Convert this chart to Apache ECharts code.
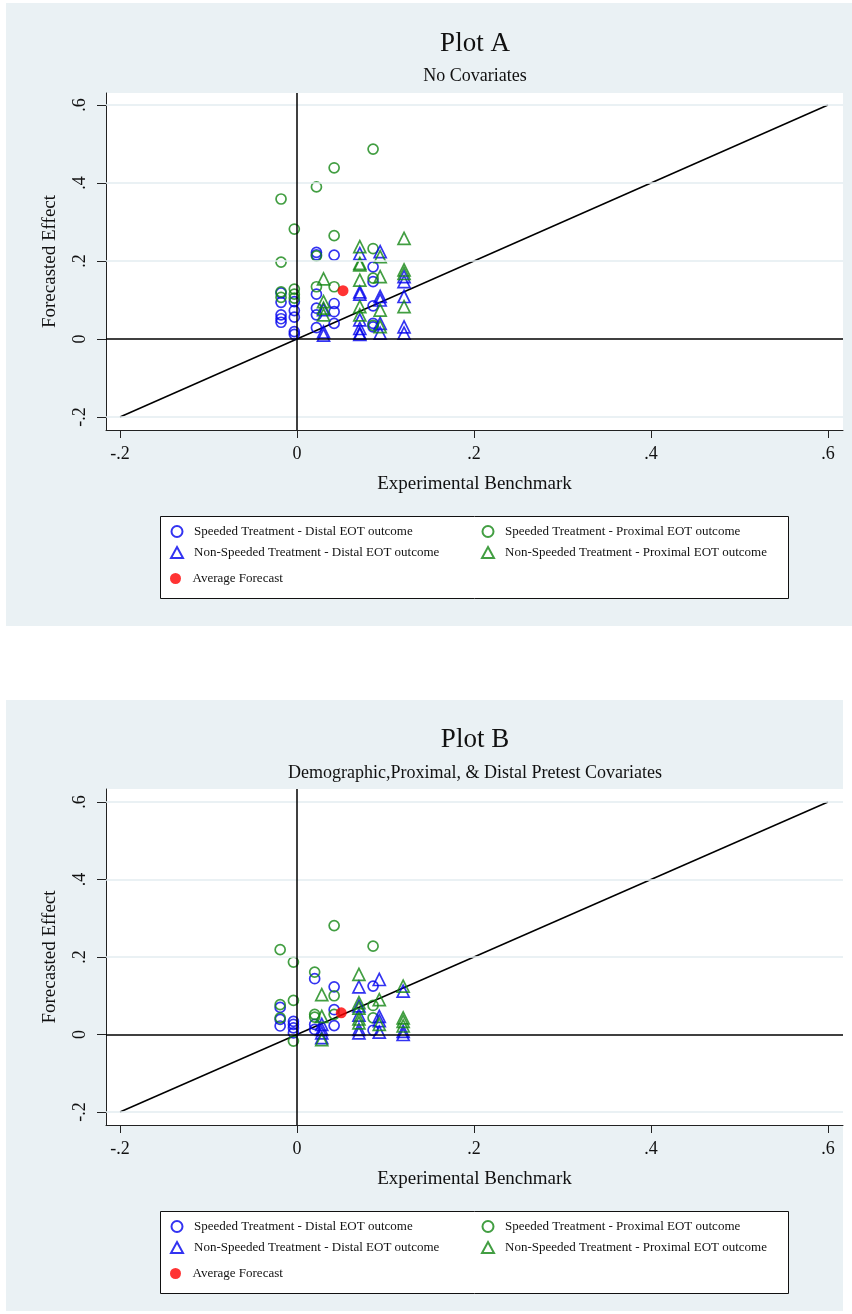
<!DOCTYPE html>
<html>
<head>
<meta charset="utf-8">
<script src="https://cdn.jsdelivr.net/npm/echarts@6/dist/echarts.min.js"></script>
<style>
  html, body { margin: 0; padding: 0; background: #fff; }
  #chart { width: 852px; height: 1314px; }
</style>
</head>
<body>
<div id="chart"></div>
<script>
// tick values shared by both axes of both plots
const tickValues = [-0.2, 0, 0.2, 0.4, 0.6];
const tickLabels = ["-.2", "0", ".2", ".4", ".6"];
const diagLine = [[-0.2, -0.2], [0.6, 0.6]];

// Plot A - no covariates
const aSpeededDistal = [
  [-0.018, 0.118], [-0.018, 0.094], [-0.018, 0.062], [-0.018, 0.052], [-0.018, 0.043],
  [-0.003, 0.096], [-0.003, 0.073], [-0.003, 0.056], [-0.003, 0.019], [-0.003, 0.012],
  [0.022, 0.222], [0.022, 0.216], [0.022, 0.115], [0.022, 0.079], [0.022, 0.062], [0.022, 0.029],
  [0.042, 0.215], [0.042, 0.091], [0.042, 0.07], [0.042, 0.04],
  [0.086, 0.185], [0.086, 0.147], [0.086, 0.085], [0.086, 0.04], [0.086, 0.031]
];
const aSpeededProximal = [
  [-0.018, 0.359], [-0.018, 0.197], [-0.018, 0.121], [-0.018, 0.107],
  [-0.003, 0.282], [-0.003, 0.128], [-0.003, 0.115], [-0.003, 0.105],
  [0.022, 0.39], [0.022, 0.213], [0.022, 0.134],
  [0.042, 0.439], [0.042, 0.265], [0.042, 0.134],
  [0.086, 0.487], [0.086, 0.232], [0.086, 0.156], [0.086, 0.035]
];
const aNonSpeededDistal = [
  [0.03, 0.075], [0.03, 0.018], [0.03, 0.01],
  [0.071, 0.219], [0.071, 0.121], [0.071, 0.115], [0.071, 0.049], [0.071, 0.027], [0.071, 0.015], [0.071, 0.012],
  [0.094, 0.224], [0.094, 0.109], [0.094, 0.1], [0.094, 0.04], [0.094, 0.015],
  [0.121, 0.16], [0.121, 0.147], [0.121, 0.109], [0.121, 0.031], [0.121, 0.015]
];
const aNonSpeededProximal = [
  [0.03, 0.154], [0.03, 0.096], [0.03, 0.079], [0.03, 0.062],
  [0.071, 0.237], [0.071, 0.194], [0.071, 0.19], [0.071, 0.151], [0.071, 0.083], [0.071, 0.062],
  [0.094, 0.211], [0.094, 0.16], [0.094, 0.074], [0.094, 0.032],
  [0.121, 0.258], [0.121, 0.177], [0.121, 0.168], [0.121, 0.083]
];
const aAverage = [[0.052, 0.124]];

// Plot B - demographic, proximal & distal pretest covariates
const bSpeededDistal = [
  [-0.019, 0.07], [-0.019, 0.039], [-0.019, 0.022],
  [-0.004, 0.034], [-0.004, 0.026], [-0.004, 0.017], [-0.004, 0.004],
  [0.02, 0.144], [0.02, 0.026], [0.02, 0.013],
  [0.042, 0.123], [0.042, 0.064], [0.042, 0.023],
  [0.086, 0.125], [0.086, 0.011]
];
const bSpeededProximal = [
  [-0.019, 0.219], [-0.019, 0.077], [-0.019, 0.043],
  [-0.004, 0.187], [-0.004, 0.088], [-0.004, -0.017],
  [0.02, 0.161], [0.02, 0.052], [0.02, 0.045],
  [0.042, 0.281], [0.042, 0.1], [0.042, 0.052],
  [0.086, 0.228], [0.086, 0.075], [0.086, 0.043]
];
const bNonSpeededDistal = [
  [0.028, 0.026], [0.028, 0.013], [0.028, 0.004], [0.028, -0.008],
  [0.07, 0.123], [0.07, 0.074], [0.07, 0.05], [0.07, 0.013], [0.07, 0.004],
  [0.093, 0.142], [0.093, 0.047], [0.093, 0.036], [0.093, 0.006],
  [0.12, 0.112], [0.12, 0.008], [0.12, 0.0]
];
const bNonSpeededProximal = [
  [0.028, 0.103], [0.028, 0.047], [0.028, -0.013],
  [0.07, 0.155], [0.07, 0.082], [0.07, 0.068], [0.07, 0.04], [0.07, 0.03],
  [0.093, 0.09], [0.093, 0.026],
  [0.12, 0.125], [0.12, 0.043], [0.12, 0.034], [0.12, 0.022]
];
const bAverage = [[0.05, 0.056]];

const NAMES = [
  "Speeded Treatment - Distal EOT outcome",
  "Speeded Treatment - Proximal EOT outcome",
  "Non-Speeded Treatment - Distal EOT outcome",
  "Non-Speeded Treatment - Proximal EOT outcome",
  "Average Forecast",
];

const FONT = "Liberation Serif";
const BLUE = "#0000ee";
const GREEN = "#138613";
const RED = "#ff0000";
const PANEL = "#eaf1f4";
const GRIDLINE = "#e3ecf0";

function tickLabel(v) {
  const i = tickValues.findIndex((t) => Math.abs(t - v) < 1e-6);
  return i >= 0 ? tickLabels[i] : "";
}

function xAxisFor(gridIndex) {
  return {
    type: "value",
    gridIndex,
    min: -0.2158,
    max: 0.617,
    name: "Experimental Benchmark",
    nameLocation: "middle",
    nameGap: 45,
    nameTextStyle: { fontFamily: FONT, fontSize: 19, color: "#111" },
    axisLine: { show: true, onZero: false, lineStyle: { color: "#222", width: 1 } },
    axisTick: { show: true, length: 8, customValues: tickValues, lineStyle: { color: "#222" } },
    axisLabel: {
      customValues: tickValues,
      formatter: tickLabel,
      fontFamily: FONT,
      fontSize: 18,
      color: "#111",
      margin: 15,
    },
    splitLine: { show: false },
  };
}

function yAxisFor(gridIndex, min, max) {
  return {
    type: "value",
    gridIndex,
    min,
    max,
    name: "Forecasted Effect",
    nameLocation: "middle",
    nameGap: 46,
    nameTextStyle: { fontFamily: FONT, fontSize: 19, color: "#111" },
    axisLine: { show: true, onZero: false, lineStyle: { color: "#222", width: 1 } },
    axisTick: { show: true, length: 9, customValues: tickValues, lineStyle: { color: "#222" } },
    axisLabel: {
      customValues: tickValues,
      formatter: tickLabel,
      rotate: 90,
      fontFamily: FONT,
      fontSize: 18,
      color: "#111",
      margin: 17,
    },
    splitLine: { show: false },
  };
}

function hollow(name, data, symbol, color, idx) {
  return {
    name,
    type: "scatter",
    xAxisIndex: idx,
    yAxisIndex: idx,
    data,
    symbol,
    symbolSize: symbol === "circle" ? 10 : 12,
    itemStyle: { color: "transparent", borderColor: color, borderWidth: 1.7 },
    z: 3,
    animation: false,
  };
}

function seriesFor(idx, sd, sp, nd, np, avg) {
  return [
    {
      type: "line",
      xAxisIndex: idx,
      yAxisIndex: idx,
      data: diagLine,
      symbol: "none",
      lineStyle: { color: "#000", width: 1.5 },
      silent: true,
      z: 1,
      animation: false,
      markLine: {
        silent: true,
        symbol: "none",
        label: { show: false },
        animation: false,
        data: tickValues
          .filter((v) => v !== 0)
          .map((v) => ({ yAxis: v, lineStyle: { color: GRIDLINE, width: 1.5, type: "solid" } }))
          .concat([
            { xAxis: 0, lineStyle: { color: "#000", width: 1.5, type: "solid" } },
            { yAxis: 0, lineStyle: { color: "#000", width: 1.5, type: "solid" } },
          ]),
      },
    },
    hollow(NAMES[0], sd, "circle", BLUE, idx),
    hollow(NAMES[1], sp, "circle", GREEN, idx),
    hollow(NAMES[2], nd, "triangle", BLUE, idx),
    hollow(NAMES[3], np, "triangle", GREEN, idx),
    {
      name: NAMES[4],
      type: "scatter",
      xAxisIndex: idx,
      yAxisIndex: idx,
      data: avg,
      symbol: "circle",
      symbolSize: 11,
      itemStyle: { color: RED },
      z: 4,
      animation: false,
    },
  ];
}

function legendAt(left, top, names) {
  return {
    left,
    top,
    orient: "vertical",
    itemWidth: 12,
    itemHeight: 11,
    itemGap: 8,
    padding: 0,
    selectedMode: false,
    data: names,
    textStyle: { fontFamily: FONT, fontSize: 13, color: "#111", padding: [0, 0, 0, 6] },
    z: 10,
  };
}

const chart = echarts.init(document.getElementById("chart"));

chart.setOption({
  backgroundColor: "#fff",
  animation: false,
  graphic: [
    { type: "rect", shape: { x: 6, y: 3, width: 846, height: 623 }, style: { fill: PANEL }, z: -10, silent: true },
    { type: "rect", shape: { x: 6, y: 700, width: 837, height: 611 }, style: { fill: PANEL }, z: -10, silent: true },
    { type: "rect", shape: { x: 160.5, y: 516.5, width: 628, height: 82 }, style: { fill: "#fff", stroke: "#111", lineWidth: 1 }, z: 1, silent: true },
    { type: "rect", shape: { x: 160.5, y: 1211.5, width: 628, height: 82 }, style: { fill: "#fff", stroke: "#111", lineWidth: 1 }, z: 1, silent: true },
  ],
  title: [
    { text: "Plot A", left: 475, top: 30, textAlign: "center", padding: 0, textStyle: { fontFamily: FONT, fontSize: 27, fontWeight: "normal", color: "#111" } },
    { text: "No Covariates", left: 475, top: 67, textAlign: "center", padding: 0, textStyle: { fontFamily: FONT, fontSize: 18, fontWeight: "normal", color: "#111" } },
    { text: "Plot B", left: 475, top: 726, textAlign: "center", padding: 0, textStyle: { fontFamily: FONT, fontSize: 27, fontWeight: "normal", color: "#111" } },
    { text: "Demographic,Proximal, & Distal Pretest Covariates", left: 475, top: 764, textAlign: "center", padding: 0, textStyle: { fontFamily: FONT, fontSize: 18, fontWeight: "normal", color: "#111" } },
  ],
  legend: [
    legendAt(170, 525, [NAMES[0], NAMES[2]]),
    legendAt(481, 525, [NAMES[1], NAMES[3]]),
    legendAt(170, 572, [NAMES[4]]),
    legendAt(170, 1220, [NAMES[0], NAMES[2]]),
    legendAt(481, 1220, [NAMES[1], NAMES[3]]),
    legendAt(170, 1267, [NAMES[4]]),
  ],
  grid: [
    { left: 106, top: 93, width: 737, height: 337, show: true, backgroundColor: "#fff", borderWidth: 0 },
    { left: 106, top: 789, width: 737, height: 336, show: true, backgroundColor: "#fff", borderWidth: 0 },
  ],
  xAxis: [xAxisFor(0), xAxisFor(1)],
  yAxis: [yAxisFor(0, -0.2333, 0.6308), yAxisFor(1, -0.2335, 0.6335)],
  series: [
    ...seriesFor(0, aSpeededDistal, aSpeededProximal, aNonSpeededDistal, aNonSpeededProximal, aAverage),
    ...seriesFor(1, bSpeededDistal, bSpeededProximal, bNonSpeededDistal, bNonSpeededProximal, bAverage),
  ],
});
</script>
</body>
</html>
